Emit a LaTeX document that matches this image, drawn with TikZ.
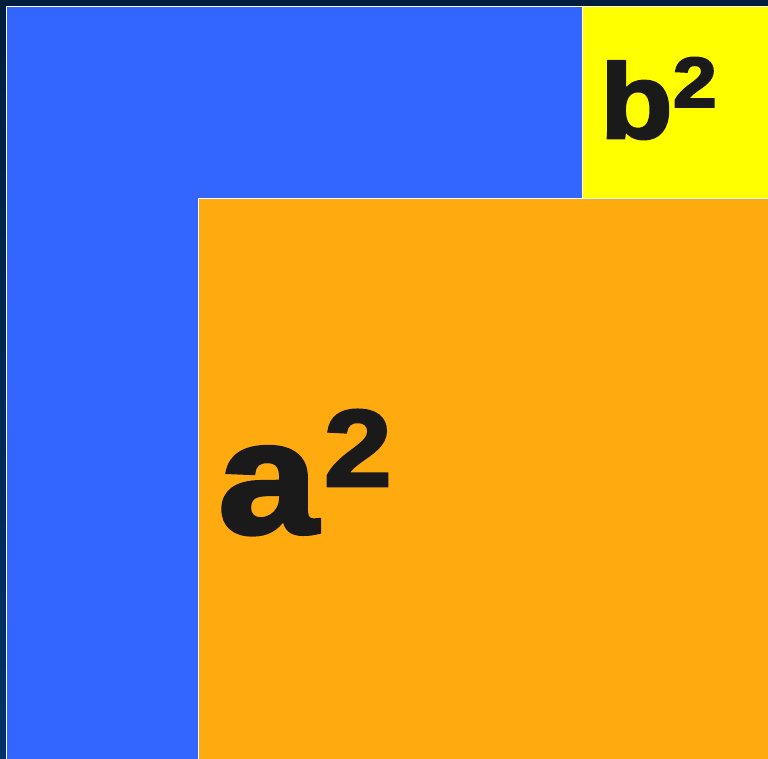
\documentclass[tikz,border=0pt]{standalone}
\usepackage{fontspec}
\setmainfont{Liberation Sans}[BoldFeatures={FakeBold=2.6,FakeStretch=1.12}]
\usetikzlibrary{positioning}

\definecolor{navytop}{HTML}{001E3C}
\definecolor{navybot}{HTML}{003366}
\definecolor{sqblue}{HTML}{3366FF}
\definecolor{sqyellow}{HTML}{FFFF00}
\definecolor{sqorange}{HTML}{FFAB10}
\definecolor{ink}{HTML}{1A1A1A}

\begin{document}
\begin{tikzpicture}[
  x=1pt, y=-1pt,
  square/.style={draw=white, line width=1.5pt},
  biglabel/.style={font=\bfseries\fontsize{160}{160}\selectfont, text=ink, inner sep=0pt, anchor=base west},
  smalllabel/.style={font=\bfseries\fontsize{106}{106}\selectfont, text=ink, inner sep=0pt, anchor=base west}
]

% -------------------------
% Frame and background
% -------------------------

\useasboundingbox (0,0) rectangle (768,758);
\clip (0,0) rectangle (768,758);
\shade[top color=navytop, bottom color=navybot] (0,0) rectangle (768,758);

% -------------------------
% Squares (cut off at right and bottom)
% -------------------------

\draw[square, fill=sqblue]   (6.5,6.5)     rectangle (800,800);
\draw[square, fill=sqyellow] (582.5,6.5)   rectangle (800,198.5);
\draw[square, fill=sqorange] (198.5,198.5) rectangle (800,800);

% -------------------------
% Area labels
% -------------------------

\node[biglabel] (asq) at (218,533)
  {a\kern6pt\raisebox{47pt}{\fontsize{109}{109}\selectfont 2}};
\node[smalllabel] (bsq) at (600,138)
  {b\raisebox{31pt}{\fontsize{71}{71}\selectfont 2}};

\end{tikzpicture}
\end{document}
